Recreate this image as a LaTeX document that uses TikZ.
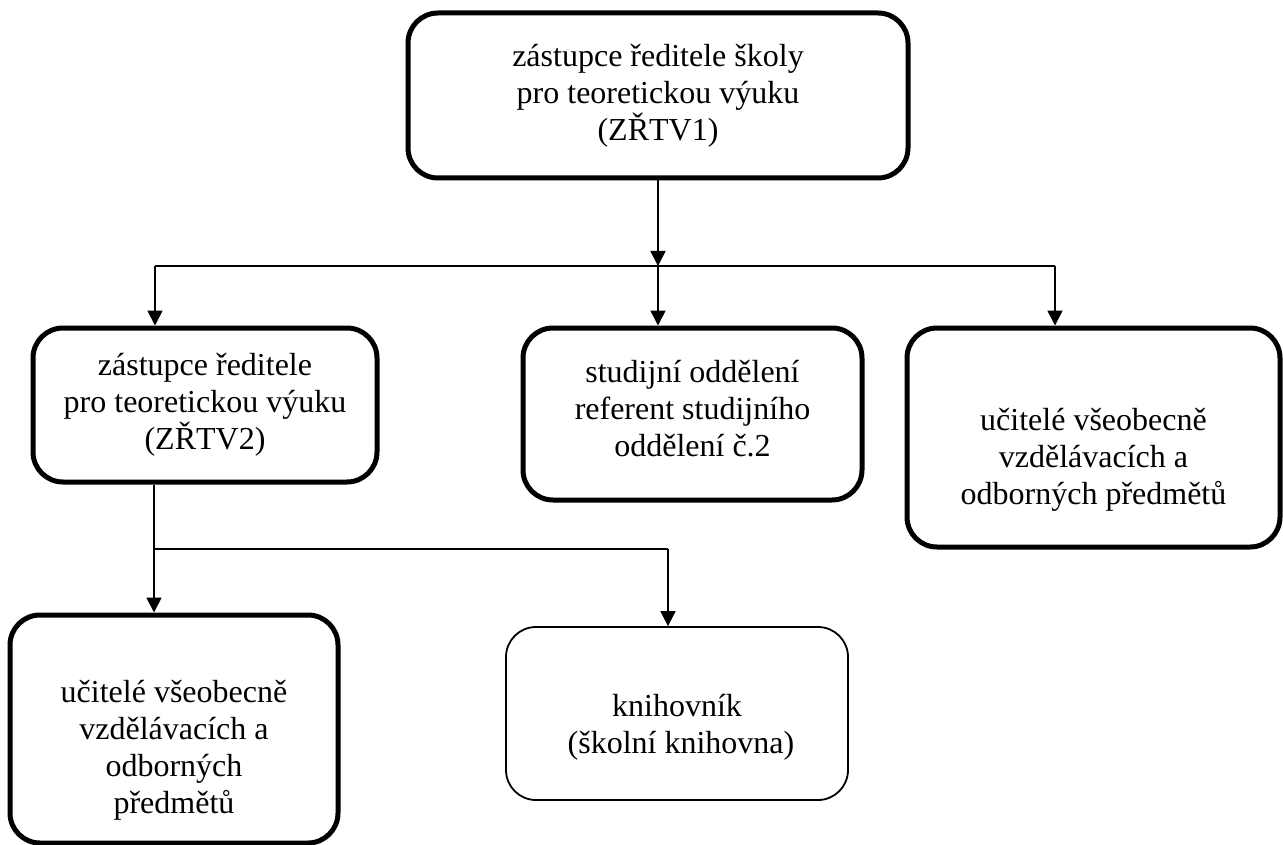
\documentclass[tikz,border=0pt]{standalone}
\usepackage{fontspec}
\setmainfont{Liberation Serif}
\usepackage{tikz}
\usetikzlibrary{arrows.meta,positioning,calc}
\tikzset{
  unitbox/.style={draw=black, rounded corners=30pt, line width=5pt, align=center,
                  inner sep=0pt, font=\fontsize{32}{37}\selectfont},
  libbox/.style={unitbox, line width=1.8pt},
  link/.style={line width=1.8pt, -{Triangle[width=15pt,length=15pt]}},
  busline/.style={line width=1.8pt}
}
% posun textu v ramecku
\newcommand{\padtop}[1]{\rule{0pt}{#1}}
\newcommand{\padbot}[1]{\rule[-#1]{0pt}{0pt}}

\begin{document}
\begin{tikzpicture}[x=1pt,y=-1pt]
        \useasboundingbox (0,0) rectangle (1283,845);
        % vedeni
        \node[unitbox, minimum width=500pt, minimum height=165pt] (zrtv1) at (658,95.5)
          {zástupce ředitele školy\\ pro teoretickou výuku\\ (ZŘTV1)};
        % druha uroven
        \node[unitbox, minimum width=344pt, minimum height=154pt] (zrtv2) at (205,405)
          {zástupce ředitele\\ pro teoretickou výuku\\ (ZŘTV2)};
        \node[unitbox, minimum width=339pt, minimum height=172pt] (studodd) at (692.5,414)
          {studijní oddělení\\ referent studijního\\ oddělení č.2\padbot{12pt}};
        \node[unitbox, minimum width=373pt, minimum height=219pt] (ucitele1) at (1093.5,437.5)
          {\padtop{67pt}učitelé všeobecně\\ vzdělávacích a\\ odborných předmětů};
        % treti uroven
        \node[unitbox, minimum width=328pt, minimum height=228pt] (ucitele2) at (174,729)
          {\padtop{65pt}učitelé všeobecně\\ vzdělávacích a\\ odborných\\ předmětů};
        \node[libbox, minimum width=342pt, minimum height=173pt] (knihovnik) at (677,713.5)
          {\padtop{49pt}knihovník\\ \ (školní knihovna)};

        % spoje
        \coordinate (busL) at (155,266);
        \coordinate (busR) at (1055,266);
        \coordinate (bus2L) at (154,549);
        \coordinate (bus2R) at (668,549);
        \draw[link] (zrtv1.south) -- (zrtv1.south |- busL);
        \draw[busline] (busL) -- (busR);
        \draw[link] (busL) -- (busL |- zrtv2.north);
        \draw[link] (zrtv1.south |- busL) -- (zrtv1.south |- studodd.north);
        \draw[link] (busR) -- (busR |- ucitele1.north);
        \draw[busline] (bus2L |- zrtv2.south) -- (bus2L) -- (bus2R);
        \draw[link] (bus2L) -- (bus2L |- ucitele2.north);
        \draw[link] (bus2R) -- (bus2R |- knihovnik.north);
      \end{tikzpicture}
\end{document}
